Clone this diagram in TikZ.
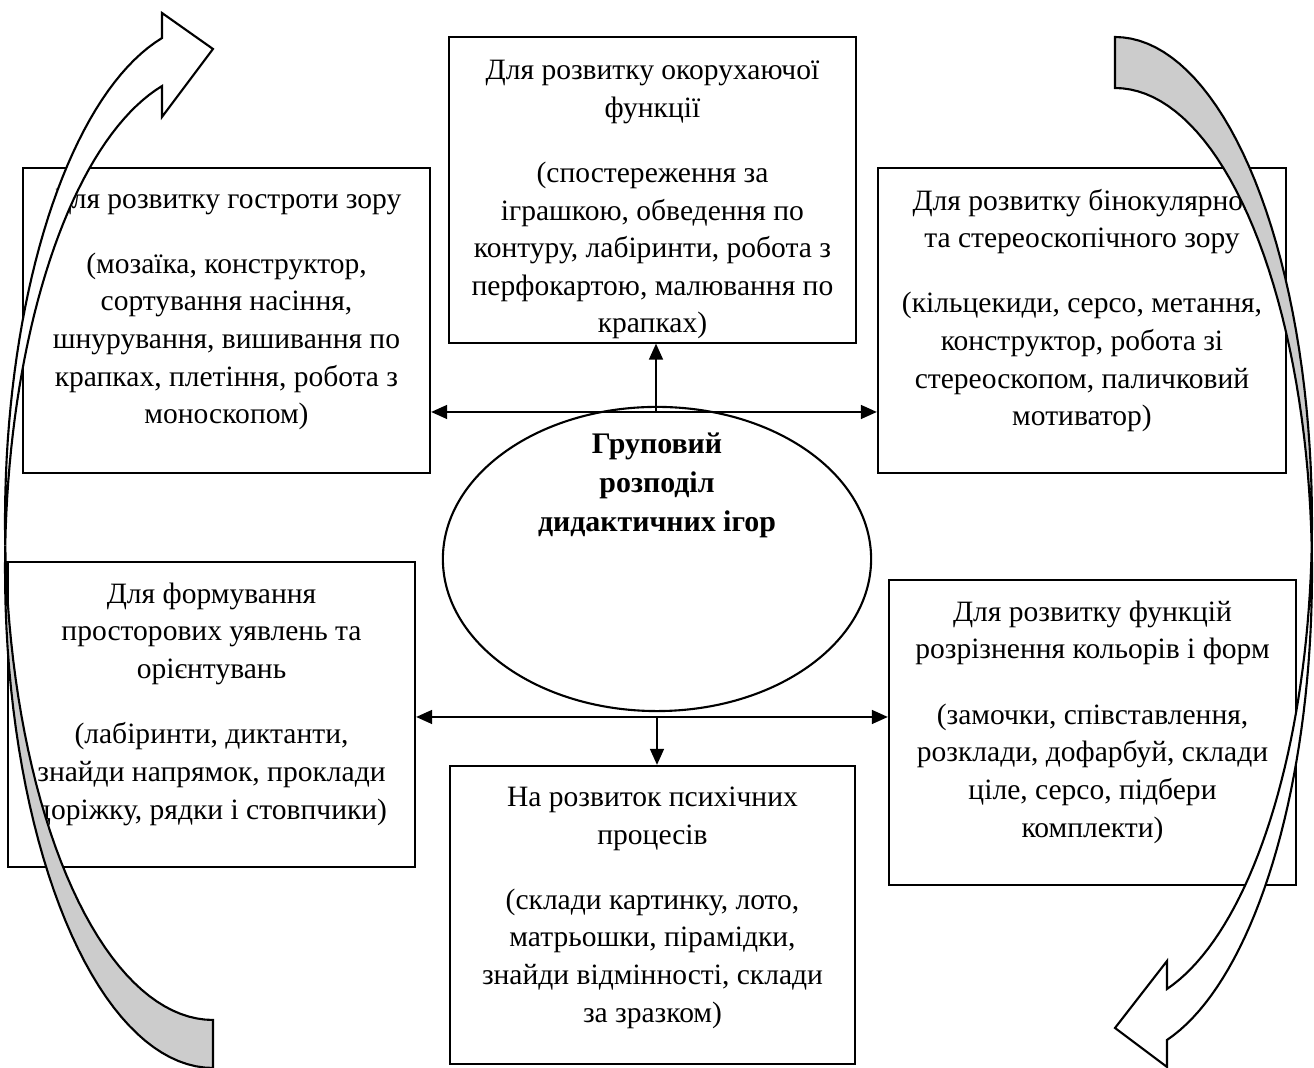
\documentclass[tikz,border=0pt]{standalone}
\usepackage{fontspec}
\setmainfont{Liberation Serif}
\usetikzlibrary{arrows.meta}
\usetikzlibrary{positioning,shapes.geometric}
\newcommand{\games}[2]{#1\\[2.75mm]#2}

\begin{document}
\begin{tikzpicture}[x=0.01cm,y=-0.01cm,font=\fontsize{8.4}{10.7}\selectfont]
\tikzstyle{group} = [rectangle, draw=black, line width=0.6pt, minimum width=4.07cm, minimum height=3.05cm, inner sep=0pt]
\tikzstyle{games} = [align=center, inner sep=0pt, outer sep=0pt]
\tikzstyle{core} = [ellipse, draw=black, line width=0.6pt, minimum width=4.28cm, minimum height=3.04cm, inner sep=0pt]
\tikzstyle{link} = [line width=0.45pt,->,>={Triangle[length=1.6mm,width=1.4mm]}]
\tikzstyle{backface} = [draw=black, fill=black!20, line width=0.6pt]
\tikzstyle{frontface} = [draw=black, fill=white, line width=0.6pt]

\useasboundingbox (0,0) rectangle (1314,1068);

\node (eye) [group] at (652.5,190) {};
\node (acuity) [group] at (226.5,320.5) {};
\node (binoc) [group, minimum width=4.08cm] at (1082,320.5) {};
\node (space) [group] at (211.5,714.5) {};
\node (colour) [group] at (1092.5,732.5) {};
\node (psych) [group, minimum width=4.05cm, minimum height=2.98cm] at (652.5,915) {};
\node (core) [core] at (657,559) {};

\node (eyetext) [games, below=2.4mm of eye.north] {\games{Для розвитку окорухаючої\\функції}{(спостереження за\\іграшкою, обведення по\\контуру, лабіринти, робота з\\перфокартою, малювання по\\крапках)}};
\node (acuitytext) [games, below=2.2mm of acuity.north] {\games{Для розвитку гостроти зору}{(мозаїка, конструктор,\\сортування насіння,\\шнурування, вишивання по\\крапках, плетіння, робота з\\моноскопом)}};
\node (binoctext) [games, below=2.2mm of binoc.north] {\games{Для розвитку бінокулярної\\та стереоскопічного зору}{(кільцекиди, серсо, метання,\\конструктор, робота зі\\стереоскопом, паличковий\\мотиватор)}};
\node (spacetext) [games, below=2.2mm of space.north] {\games{Для формування\\просторових уявлень та\\орієнтувань}{(лабіринти, диктанти,\\знайди напрямок, проклади\\доріжку, рядки і стовпчики)}};
\node (colourtext) [games, below=2.2mm of colour.north] {\games{Для розвитку функцій\\розрізнення кольорів і форм}{(замочки, співставлення,\\розклади, дофарбуй, склади\\ціле, серсо, підбери\\комплекти)}};
\node (psychtext) [games, below=2.2mm of psych.north] {\games{На розвиток психічних\\процесів}{(склади картинку, лото,\\матрьошки, пірамідки,\\знайди відмінності, склади\\за зразком)}};
\node (coretext) [games, font=\fontsize{8.5}{11.1}\selectfont\bfseries] at (657,485) {Груповий\\розподіл\\дидактичних ігор};

\coordinate (hubtop) at (656,412);
\coordinate (hubbot) at (657,717);

\draw [link] (hubtop) -- (hubtop |- eye.south);
\draw [link] (hubtop) -- (acuity.east |- hubtop);
\draw [link] (hubtop) -- (binoc.west |- hubtop);
\draw [link] (hubbot) -- (hubbot |- psych.north);
\draw [link] (hubbot) -- (space.east |- hubbot);
\draw [link] (hubbot) -- (colour.west |- hubbot);

% left curved arrow
\filldraw [backface] plot[domain=182.76:90, samples=40] ({213+208*cos(\x)},{569.4+498.6*sin(\x)})
  -- plot[domain=90:177.24, samples=40] ({213+208*cos(\x)},{521.4+498.6*sin(\x)}) -- cycle;
\filldraw [frontface] plot[domain=177.24:255.81, samples=40] ({213+208*cos(\x)},{521.4+498.6*sin(\x)})
  -- (162,13) -- (213,49) -- (162,117)
  -- plot[domain=255.81:182.76, samples=40] ({213+208*cos(\x)},{569.4+498.6*sin(\x)}) -- cycle;

% right curved arrow
\filldraw [backface] plot[domain=-90:3.02, samples=40] ({1115+197*cos(\x)},{521.6+484.6*sin(\x)})
  -- plot[domain=-3.02:-90, samples=40] ({1115+197*cos(\x)},{572.6+484.6*sin(\x)}) -- cycle;
\filldraw [frontface] plot[domain=-3.02:74.70, samples=40] ({1115+197*cos(\x)},{572.6+484.6*sin(\x)})
  -- (1167,1067) -- (1115,1028) -- (1167,961)
  -- plot[domain=74.70:3.02, samples=40] ({1115+197*cos(\x)},{521.6+484.6*sin(\x)}) -- cycle;

\end{tikzpicture}
\end{document}
